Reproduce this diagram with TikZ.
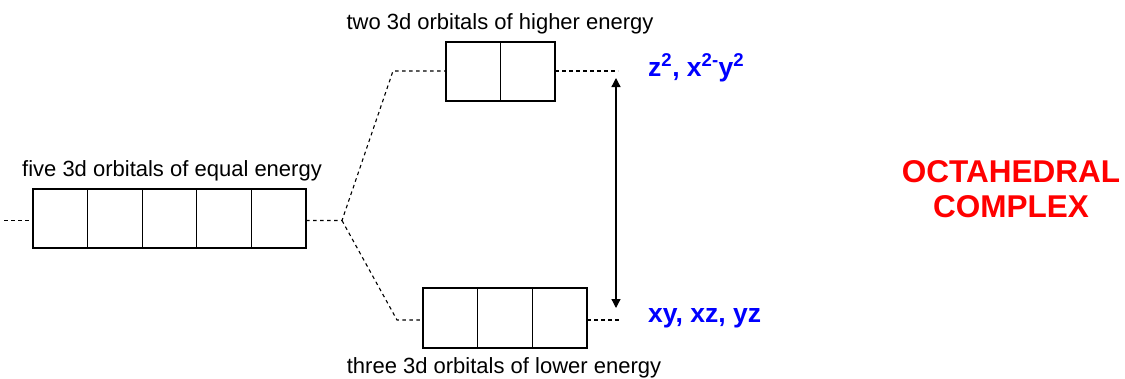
\documentclass[tikz,border=0pt]{standalone}
\usepackage{fontspec}
\setmainfont{Liberation Sans}
\usetikzlibrary{arrows.meta}
\begin{document}
\begin{tikzpicture}[x=1pt,y=-1pt,
  cell/.style={draw,line width=1.3pt,minimum height=59pt,inner sep=0pt,outer sep=0pt},
  dots/.style={line width=1.1pt,dash pattern=on 3.6pt off 3.4pt},
  lbl/.style={font=\fontsize{22}{26}\selectfont,inner sep=0pt,anchor=base},
  blu/.style={font=\fontsize{26.5}{30}\selectfont\bfseries,text=blue,inner sep=0pt,anchor=base west},
  rd/.style={font=\fontsize{31.5}{36}\selectfont\bfseries,text=red,inner sep=0pt,anchor=base}]
\useasboundingbox (0,0) rectangle (1125,378);
% five cells
\foreach \i/\cx in {1/60.3,2/114.9,3/169.5,4/224.1,5/278.7}
  \node[cell,minimum width=54.6pt] (f\i) at (\cx,218.5) {};
% two cells
\foreach \i/\cx in {1/473.25,2/527.75}
  \node[cell,minimum width=54.5pt] (t\i) at (\cx,71.5) {};
% three cells
\foreach \i/\cx in {1/450.3,2/505,3/559.7}
  \node[cell,minimum width=54.67pt,minimum height=60pt] (b\i) at (\cx,318) {};
% labels
\node[lbl] (lf) at (172,176) {five 3d orbitals of equal energy};
\node[lbl] (lt) at (500,29) {two 3d orbitals of higher energy};
\node[lbl] (lb) at (504,373) {three 3d orbitals of lower energy};
\node[blu] (zt) at (648,76) {z\textsuperscript{2}, x\textsuperscript{2-}y\textsuperscript{2}};
\node[blu] (xy) at (648,322) {xy, xz, yz};
\node[rd] (oc) at (1011,182) {OCTAHEDRAL};
\node[rd] (cx) at (1011,217) {COMPLEX};
% coordinates
\coordinate (L0) at (4,220.5);
\coordinate (J) at (342,220.5);
\coordinate (TL) at (393,71);
\coordinate (TR) at (618,71);
\coordinate (BL) at (397,320);
\coordinate (BR) at (622,320);
\coordinate (au) at (616,78);
\coordinate (ad) at (616,308);
% dotted connectors
\draw[dots] (L0) -- (L0 -| f1.west);
\draw[dots] (J -| f5.east) -- (J) -- (TL) -- (TL -| t1.west);
\draw[dots] (J) -- (BL) -- (BL -| b1.west);
\draw[dots] (TR -| t2.east) -- (TR);
\draw[dots] (BR -| b3.east) -- (BR);
% energy arrow
\draw[line width=1.3pt,{Triangle[length=9pt,width=9pt]}-{Triangle[length=9pt,width=9pt]}] (au) -- (ad);
\end{tikzpicture}
\end{document}
